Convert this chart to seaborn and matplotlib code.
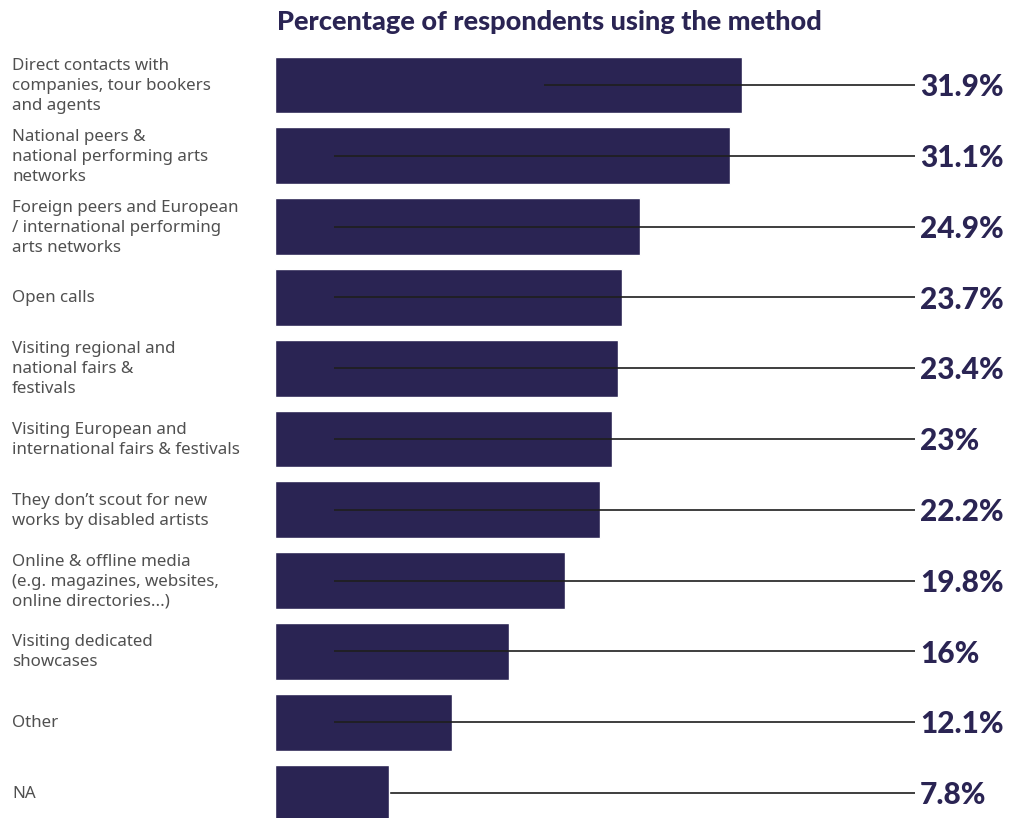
import matplotlib
matplotlib.use("Agg")
import matplotlib.pyplot as plt
import seaborn as sns
import pandas as pd

categories = [
    "Direct contacts with\ncompanies, tour bookers\nand agents",
    "National peers &\nnational performing arts\nnetworks",
    "Foreign peers and European\n/ international performing\narts networks",
    "Open calls",
    "Visiting regional and\nnational fairs &\nfestivals",
    "Visiting European and\ninternational fairs & festivals",
    "They don\u2019t scout for new\nworks by disabled artists",
    "Online & offline media\n(e.g. magazines, websites,\nonline directories...)",
    "Visiting dedicated\nshowcases",
    "Other",
    "NA",
]
values = [31.9, 31.1, 24.9, 23.7, 23.4, 23.0, 22.2, 19.8, 16.0, 12.1, 7.8]
value_labels = ["31.9%", "31.1%", "24.9%", "23.7%", "23.4%", "23%", "22.2%",
                "19.8%", "16%", "12.1%", "7.8%"]
title = "Percentage of respondents using the method"

NAVY = "#2a2453"

sns.set_style("white")
plt.rcParams["font.family"] = ["Lato", "DejaVu Sans"]

df = pd.DataFrame({"cat": categories, "val": values})

W, H = 1013, 818
fig = plt.figure(figsize=(W / 100, H / 100), dpi=100)
ax = fig.add_axes([275 / W, 0, (W - 275) / W, (H - 50) / H])

sns.barplot(data=df, x="val", y="cat", orient="h", color=NAVY,
            saturation=1, width=0.8, ax=ax, zorder=2)

px_per_unit = 467 / 31.9
ax.set_xlim(0, (W - 275) / px_per_unit)
ax.set_ylim(10 + 25 / 70.8, -35 / 70.8)

line_end = (915 - 275) / px_per_unit
text_x = (920 - 275) / px_per_unit
for i, (v, lab) in enumerate(zip(values, value_labels)):
    start = 18.4 if i == 0 else 4.0
    z = 1 if i == len(values) - 1 else 3
    ax.plot([start, line_end], [i, i], color="#1e1e1e", lw=1.2, zorder=z,
            solid_capstyle="butt")
    ax.text(text_x, i + 0.03, lab, ha="left", va="center", fontsize=21.5,
            fontweight="black", color=NAVY)

ax.set_yticks([])
ax.set_xticks([])
ax.set_xlabel("")
ax.set_ylabel("")
for s in ax.spines.values():
    s.set_visible(False)

for i, c in enumerate(categories):
    y_fig = 1 - (86 + i * 70.8) / H
    fig.text(12 / W, y_fig, c, ha="left", va="center", fontsize=12.2,
             color="#505050", linespacing=1.34,
             family=["Noto Sans", "DejaVu Sans"])

fig.text(277 / W, 1 - 22 / H, title, ha="left", va="center", fontsize=19.5,
         fontweight="black", color=NAVY)

fig.savefig("out.png", dpi=100)
